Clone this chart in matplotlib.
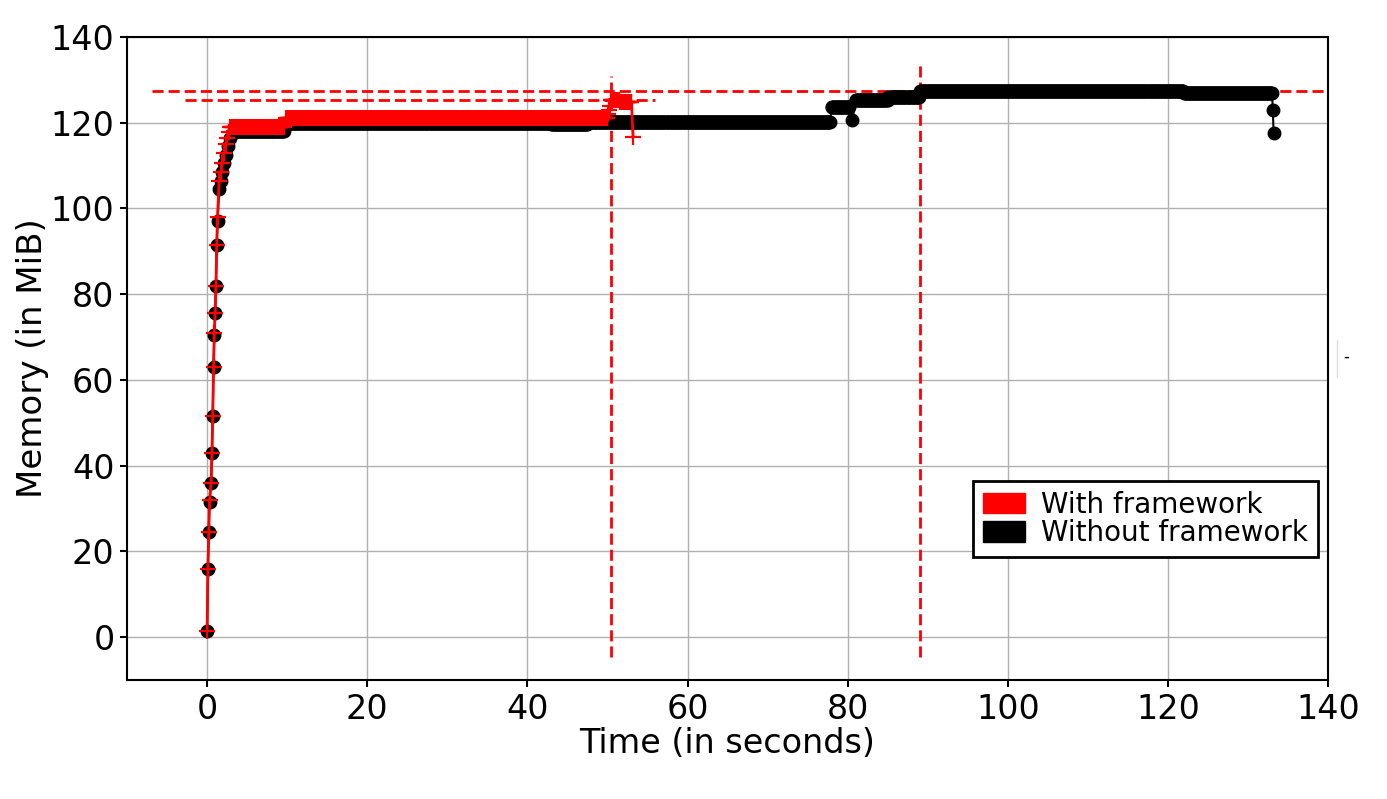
import numpy as np
import matplotlib
matplotlib.use('Agg')
import matplotlib.pyplot as plt
from matplotlib.patches import Patch
from matplotlib.lines import Line2D

# profiler sampling interval (s)
dt = 0.1

## without framework: start-up ramp, flat stretches (start, end, MiB), odd single samples
nofw_ramp_t = [0.0, 0.1, 0.2, 0.3, 0.5, 0.6, 0.7, 0.8, 0.9, 1.0, 1.1, 1.2, 1.3, 1.5, 1.7, 1.9, 2.1, 2.4, 2.6, 2.9, 3.2]
nofw_ramp_mem = [1.5, 16.0, 24.5, 31.5, 36.0, 43.0, 51.5, 63.0, 70.5, 75.5, 82.0, 91.5, 97.0, 104.5, 106.5, 108.5, 110.5, 112.5, 114.5, 116.5, 117.6]
nofw_step_start = [3.3, 9.8, 43.0, 47.6, 78.0, 81.0, 85.1, 89.0, 122.0]
nofw_step_end = [9.6, 42.9, 47.5, 77.8, 80.2, 85.0, 88.9, 121.9, 133.0]
nofw_step_mem = [118.1, 120.0, 119.6, 120.1, 123.7, 125.3, 125.9, 127.4, 126.9]
nofw_single_t = [80.6, 133.1, 133.2]
nofw_single_mem = [120.7, 123.0, 117.7]

## with framework
fw_ramp_t = [0.0, 0.1, 0.2, 0.3, 0.5, 0.6, 0.7, 0.8, 0.9, 1.0, 1.1, 1.2, 1.3, 1.5, 1.7, 1.9, 2.1, 2.3, 2.5, 2.7, 2.9]
fw_ramp_mem = [1.5, 16.0, 24.5, 32.0, 36.0, 43.0, 51.5, 63.0, 71.0, 75.5, 82.0, 91.5, 98.0, 106.5, 108.5, 110.5, 113.0, 115.0, 116.5, 117.8, 119.0]
fw_step_start = [3.0, 9.9, 50.4, 51.6]
fw_step_end = [9.6, 50.0, 51.5, 53.0]
fw_step_mem = [119.0, 121.0, 125.3, 124.9]
fw_single_t = [50.1, 50.2, 50.3, 53.2]
fw_single_mem = [122.0, 123.0, 124.0, 116.7]

labels = ['With framework', 'Without framework']


def build(ramp_t, ramp_m, s0, s1, sm, one_t, one_m):
    t = list(ramp_t) + list(one_t)
    m = list(ramp_m) + list(one_m)
    for a, b, v in zip(s0, s1, sm):
        tt = np.round(np.arange(a, b + dt / 2, dt), 2)
        t += list(tt)
        m += [v] * len(tt)
    t = np.array(t)
    m = np.array(m)
    order = np.argsort(t, kind='stable')
    return t[order], m[order]


t_nofw, mem_nofw = build(nofw_ramp_t, nofw_ramp_mem, nofw_step_start, nofw_step_end,
                         nofw_step_mem, nofw_single_t, nofw_single_mem)
t_fw, mem_fw = build(fw_ramp_t, fw_ramp_mem, fw_step_start, fw_step_end,
                     fw_step_mem, fw_single_t, fw_single_mem)

fig = plt.figure(figsize=(13.87, 7.99), dpi=100)
ax = fig.add_axes([0.0916, 0.1489, 0.8659, 0.8048])

ax.plot(t_nofw, mem_nofw, color='k', lw=1.5, marker='o', ms=9, zorder=3)
ax.plot(t_fw, mem_fw, color='r', lw=2, marker='+', ms=11.5, mew=1.6, zorder=4)

# max memory markers (extents as left by the profiler at draw time)
dash = dict(color='r', lw=2, ls=(0, (4, 1.8)), zorder=2)
i = np.argmax(mem_nofw)
ax.plot([-6.9, 141], [mem_nofw[i]] * 2, **dash)
ax.plot([t_nofw[i]] * 2, [-4.7, 134], **dash)
i = np.argmax(mem_fw)
ax.plot([-2.7, 56.0], [mem_fw[i]] * 2, **dash)
ax.plot([t_fw[i]] * 2, [-4.7, 131], **dash)

ax.set_xlim(-10, 140)
ax.set_ylim(-10, 140)
ax.set_xticks(np.arange(0, 141, 20))
ax.set_yticks(np.arange(0, 141, 20))
ax.grid(True, color='#b0b0b0', lw=1.0, zorder=0)
ax.set_axisbelow(True)
ax.tick_params(labelsize=24, width=1.5, length=5, pad=4)
for s in ax.spines.values():
    s.set_linewidth(1.5)

ax.set_xlabel('Time (in seconds)', fontsize=24, labelpad=1)
ax.set_ylabel('Memory (in MiB)', fontsize=24.5, labelpad=1)

handles = [Patch(color='r'), Patch(color='k')]
leg = ax.legend(handles, labels, loc='lower right', fontsize=20,
                bbox_to_anchor=(1318 / 1387, (799 - 557) / 799),
                bbox_transform=fig.transFigure, borderaxespad=0,
                handlelength=1.5, handleheight=0.75, handletextpad=0.6,
                labelspacing=0.02, borderpad=0.35, fancybox=False,
                framealpha=1, edgecolor='k')
leg.get_frame().set_linewidth(2)

# stray mark at right edge
fig.add_artist(Line2D([1337 / 1387] * 2, [1 - 340 / 799, 1 - 377 / 799], color='#dddddd', lw=1))
fig.text(1346 / 1387, 1 - 357 / 799, '-', fontsize=12, ha='center', va='center')

plt.savefig('out.png', dpi=100)
